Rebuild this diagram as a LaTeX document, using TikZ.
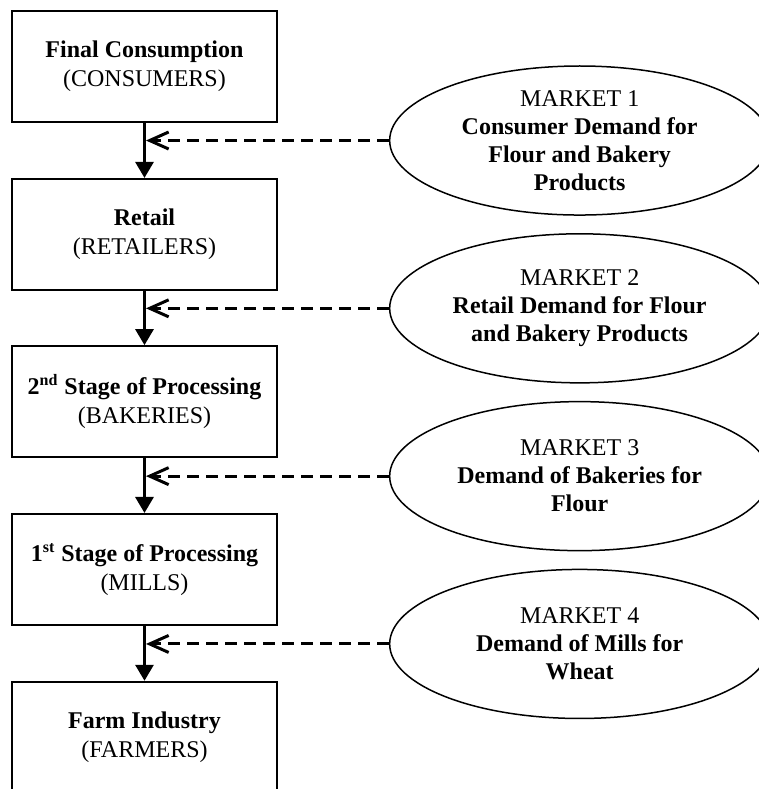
\documentclass[tikz,border=0pt]{standalone}
\usepackage{fontspec}
\setmainfont{Liberation Serif}
\usetikzlibrary{shapes.geometric,arrows.meta}

\tikzset{
  stagebox/.style={draw, line width=1pt, minimum width=4.66cm, minimum height=1.95cm,
    inner sep=0pt, align=center, font=\fontsize{12pt}{14.5pt}\selectfont},
  marketoval/.style={draw, ellipse, line width=0.75pt, minimum width=6.68cm, minimum height=2.62cm,
    inner sep=0pt, align=center, font=\fontsize{12pt}{14pt}\selectfont},
  flow/.style={line width=1.5pt, -{Triangle[width=9pt,length=8pt]}},
  demand/.style={line width=1.5pt, dash pattern=on 6pt off 3.5pt,
    -{Straight Barb[length=9.5pt,width=8.5pt]}, shorten >=0.75pt},
}

\begin{document}
\begin{tikzpicture}

\useasboundingbox (0,0) rectangle (13.34,-13.87);

	% stages of the chain, top to bottom
	\node[stagebox] (consumers) at (2.54,-1.17)  {\textbf{Final Consumption}\\(CONSUMERS)};
	\node[stagebox] (retailers) at (2.54,-4.12)  {\textbf{Retail}\\(RETAILERS)};
	\node[stagebox] (bakeries)  at (2.54,-7.06)  {\textbf{2\textsuperscript{nd} Stage of Processing}\\(BAKERIES)};
	\node[stagebox] (mills)     at (2.54,-10.01) {\textbf{1\textsuperscript{st} Stage of Processing}\\(MILLS)};
	\node[stagebox] (farmers)   at (2.54,-12.96) {\textbf{Farm Industry}\\(FARMERS)};

	% markets between the stages
	\node[marketoval] (market1) at (10.19,-2.47)  {MARKET 1\\\textbf{Consumer Demand for}\\\textbf{Flour and Bakery}\\\textbf{Products}};
	\node[marketoval] (market2) at (10.19,-5.42)  {MARKET 2\\\textbf{Retail Demand for Flour}\\\textbf{and Bakery Products}};
	\node[marketoval] (market3) at (10.19,-8.37)  {MARKET 3\\\textbf{Demand of Bakeries for}\\\textbf{Flour}};
	\node[marketoval] (market4) at (10.19,-11.32) {MARKET 4\\\textbf{Demand of Mills for}\\\textbf{Wheat}};

	% flow down the chain
	\draw[flow] (consumers) -- (retailers);
	\draw[flow] (retailers) -- (bakeries);
	\draw[flow] (bakeries)  -- (mills);
	\draw[flow] (mills)     -- (farmers);

	% demand arrows from the markets
	\draw[demand] (market1.west) -- (market1.west -| consumers.south);
	\draw[demand] (market2.west) -- (market2.west -| retailers.south);
	\draw[demand] (market3.west) -- (market3.west -| bakeries.south);
	\draw[demand] (market4.west) -- (market4.west -| mills.south);

\end{tikzpicture}
\end{document}
